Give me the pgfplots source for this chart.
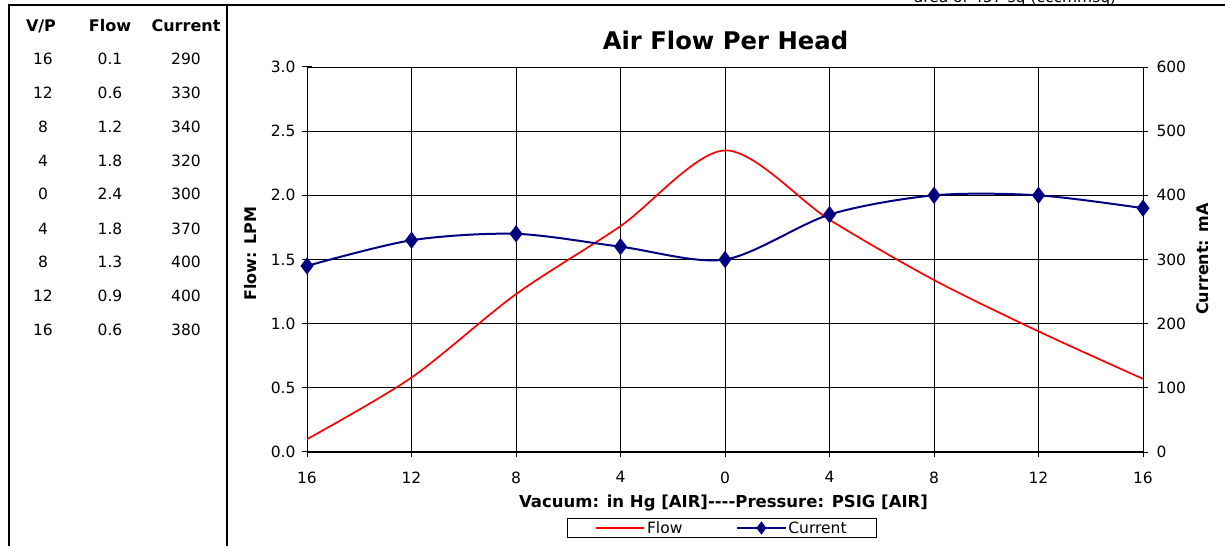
\documentclass[border=0pt]{standalone}
\usepackage{fontspec}
\setmainfont{DejaVu Sans}
\usepackage{pgfplots}
\pgfplotsset{compat=1.18}
\definecolor{navyc}{RGB}{0,0,128}
\newcommand{\tf}{\fontsize{15.5bp}{18bp}\selectfont}
\newcommand{\bff}{\bfseries\fontsize{16bp}{19bp}\selectfont}
\begin{document}
\begin{tikzpicture}
\useasboundingbox (0,0) rectangle (1225bp,546bp);
% cut-off note at the top
\node[anchor=base, font=\tf] at (1015bp,543bp) {area of 45? sq (cccmmsq)};
% frame lines
\draw[line width=2bp] (9bp,0) -- (9bp,541bp) -- (1225bp,541bp);
\draw[line width=1.5bp] (227bp,0) -- (227bp,541bp);
% data table
\node[font=\bff] at (41bp,520bp) {V/P};
\node[font=\bff] at (110bp,520bp) {Flow};
\node[font=\bff] at (186bp,520bp) {Current};
\foreach \y/\a/\b/\c in {487/16/0.1/290, 453/12/0.6/330, 419/8/1.2/340, 385/4/1.8/320, 352/0/2.4/300, 317/4/1.8/370, 284/8/1.3/400, 250/12/0.9/400, 216/16/0.6/380}{
  \node[font=\tf] at (43bp,\y bp) {\a};
  \node[font=\tf] at (110bp,\y bp) {\b};
  \node[font=\tf] at (186bp,\y bp) {\c};
}
% titles
\node[font=\bfseries\fontsize{24.3bp}{28bp}\selectfont] at (725.5bp,506bp) {Air Flow Per Head};
\node[rotate=90, font=\bff] at (251bp,292bp) {Flow: LPM};
\node[rotate=90, font=\bff] at (1203bp,287bp) {Current: mA};
\node[font=\bfseries\fontsize{16.5bp}{19bp}\selectfont] at (723.5bp,43bp) {Vacuum: in Hg [AIR]{-}{-}{-}{-}Pressure: PSIG [AIR]};

\begin{axis}[
  at={(307bp,94bp)}, anchor=south west, scale only axis,
  width=836bp, height=385bp,
  xmin=0, xmax=8, ymin=0, ymax=3,
  axis x line*=bottom, axis y line*=left,
  axis line style={black, line width=1bp, -},
  xtick={0,...,8}, xticklabels={16,12,8,4,0,4,8,12,16},
  ytick={0,0.5,1,1.5,2,2.5,3},
  /pgf/number format/assume math mode=true,
  tick label style={font=\tf},
  xticklabel style={yshift=-11bp},
  yticklabel style={xshift=-3bp, /pgf/number format/.cd,fixed,fixed zerofill,precision=1},
  grid=major, grid style={black, line width=0.8bp},
  tick align=center, major tick length=10bp, tick style={black, line width=1bp},
  clip=false,
]
\addplot[red, line width=1.7bp, smooth] coordinates {(0,0.10) (1,0.58) (2,1.23) (3,1.76) (4,2.35) (5,1.81) (6,1.34) (7,0.94) (8,0.57)};
\end{axis}

\begin{axis}[
  at={(307bp,94bp)}, anchor=south west, scale only axis,
  width=836bp, height=385bp,
  xmin=0, xmax=8, ymin=0, ymax=600,
  axis y line*=right, axis x line=none,
  axis line style={black, line width=1bp, -},
  ytick={0,100,...,600},
  /pgf/number format/assume math mode=true,
  tick label style={font=\tf},
  yticklabel style={xshift=5bp},
  tick align=center, major tick length=10bp, tick style={black, line width=1bp},
  clip=false,
  legend columns=2,
  legend style={at={(0.4964,-0.1974)}, anchor=center, draw=black, line width=0.8bp,
    font=\tf, inner xsep=28bp, inner ysep=1bp,
    /tikz/every even column/.append style={column sep=52bp}},
  legend cell align=left,
  legend image code/.code={\draw[mark repeat=2,mark phase=2,mark size=5bp,#1] plot coordinates {(0bp,0bp) (24bp,0bp) (48bp,0bp)};},
]
\addlegendimage{red, line width=1.7bp}
\addlegendentry{Flow}
\addplot[navyc, line width=2bp, smooth, mark=diamond*, mark size=7bp, mark options={fill=navyc, solid}] coordinates {(0,290) (1,330) (2,340) (3,320) (4,300) (5,370) (6,400) (7,400) (8,380)};
\addlegendentry{Current}
\end{axis}
\end{tikzpicture}
\end{document}
